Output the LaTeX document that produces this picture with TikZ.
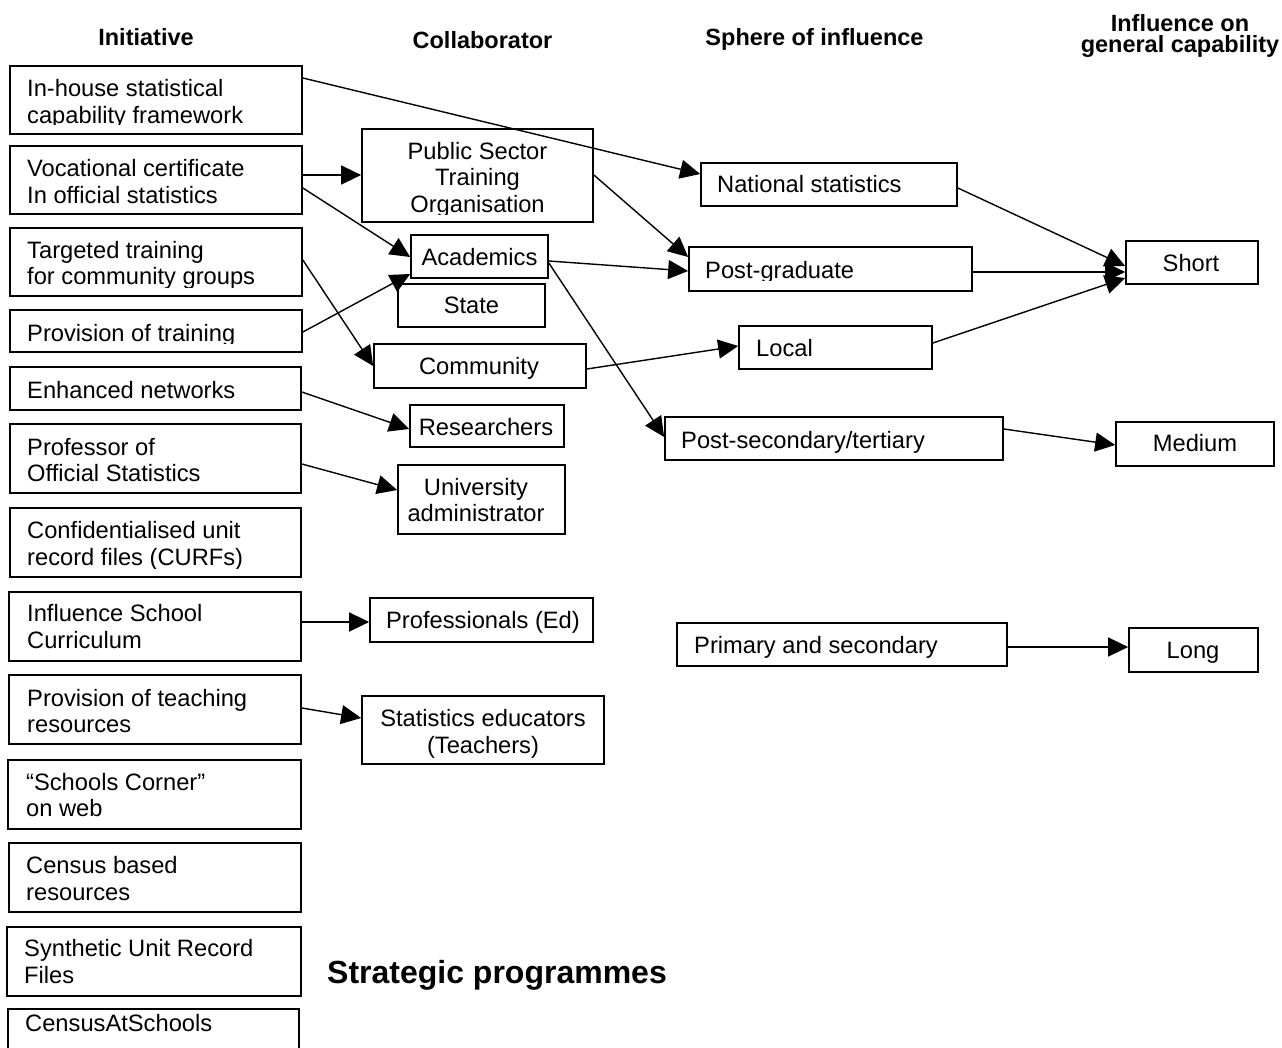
\documentclass[tikz,border=0pt]{standalone}
\usepackage{fontspec}
\setmainfont{Liberation Sans}
\usetikzlibrary{arrows.meta}
\newcommand\ml[1]{\begin{tabular}[t]{@{}l@{}}#1\end{tabular}}
\newcommand\mcx[1]{\begin{tabular}[t]{@{}c@{}}#1\end{tabular}}
\newcommand\mybox[5]{\node[boxst, minimum width={#4-#2}, minimum height={#5-#3}] (#1) at ({(#2+#4)/2},{(#3+#5)/2}) {};}
\tikzset{
  boxst/.style={draw=black, line width=1.7pt, rectangle, inner sep=0pt},
  tx/.style={anchor=base west, inner sep=0pt, font=\fontsize{23.7}{26.7}\selectfont},
  txc/.style={anchor=base, inner sep=0pt, font=\fontsize{23.7}{26.7}\selectfont},
  hd/.style={anchor=base, inner sep=0pt, font=\bfseries\fontsize{23.5}{26}\selectfont},
  arr/.style={line width=1.4pt, -{Triangle[length=20pt,width=19pt]}}
}
\begin{document}
\begin{tikzpicture}[x=1pt,y=-1pt]
\useasboundingbox (0,0) rectangle (1282,1048);
\fill[white] (0,0) rectangle (1282,1048);

% headers
\node[hd] (h1) at (146,46) {Initiative};
\node[hd] (h2) at (482.5,49) {Collaborator};
\node[hd] (h3) at (814.5,46) {Sphere of influence};
\node[hd] (h4a) at (1180,32) {Influence on};
\node[hd] (h4b) at (1180,53) {general capability};
\node[anchor=base west, inner sep=0pt, font=\bfseries\fontsize{32}{36}\selectfont] (strat) at (327,983) {Strategic programmes};

% initiative boxes
\mybox{inhouse}{10}{66}{302}{134}
\mybox{voc}{10}{146}{302}{214}
\mybox{targ}{10}{228}{302}{296}
\mybox{provtr}{10}{310}{302}{352}
\mybox{enh}{10}{367}{301}{410}
\mybox{prof}{10}{424}{301}{493}
\mybox{conf}{10}{508}{301}{577}
\mybox{infl}{9}{592}{301}{661}
\mybox{provteach}{9}{675}{301}{744}
\mybox{schools}{8}{760}{301}{829}
\mybox{censusb}{9}{843}{301}{912}
\mybox{synth}{7}{927}{301}{996}
\mybox{cas}{8}{1009}{299}{1060}

\begin{scope}
\clip (10,66) rectangle (302,124.5);
\node[tx] (inhouse-t) at (27,96.7) {\ml{In-house statistical\\capability framework}};
\end{scope}
\node[tx] (voc-t) at (27,176.7) {\ml{Vocational certificate\\In official statistics}};
\begin{scope}
\clip (10,228) rectangle (302,287.5);
\node[tx] (targ-t) at (27,258.3) {\ml{Targeted training\\for community groups}};
\end{scope}
\begin{scope}
\clip (10,310) rectangle (302,344);
\node[tx] (provtr-t) at (27,341.7) {Provision of training};
\end{scope}
\node[tx] (enh-t) at (27,398.3) {Enhanced networks};
\node[tx] (prof-t) at (27,455) {\ml{Professor of\\Official Statistics}};
\begin{scope}
\clip (10,508) rectangle (301,568);
\node[tx] (conf-t) at (27,538.3) {\ml{Confidentialised unit\\record files (CURFs)}};
\end{scope}
\node[tx] (infl-t) at (27,621.7) {\ml{Influence School\\Curriculum}};
\node[tx] (provteach-t) at (27,706) {\ml{Provision of teaching\\resources}};
\node[tx] (schools-t) at (26,790) {\ml{“Schools Corner”\\on web}};
\node[tx] (censusb-t) at (26,873.3) {\ml{Census based\\resources}};
\node[tx] (synth-t) at (24,956.7) {\ml{Synthetic Unit Record\\Files}};
\node[tx] (cas-t) at (25,1031.7) {CensusAtSchools};

% collaborator boxes
\mybox{pst}{362}{129}{593}{222}
\mybox{acad}{411}{235}{548}{278}
\mybox{state}{398}{284}{545}{327}
\mybox{comm}{374}{344}{586}{388}
\mybox{res}{410}{405}{564}{447}
\mybox{univ}{398}{465}{565}{534}
\mybox{profed}{370}{598}{593}{642}
\mybox{stated}{362}{696}{604}{764}

\begin{scope}
\clip (362,129) rectangle (593,215);
\node[txc] (pst-t) at (477.5,159.3) {\mcx{Public Sector\\Training\\Organisation}};
\end{scope}
\node[txc] (acad-t) at (479.5,265.7) {Academics};
\node[txc] (state-t) at (471.5,313.3) {State};
\node[txc] (comm-t) at (479,374) {Community};
\node[txc] (res-t) at (486,435) {Researchers};
\node[txc] (univ-t) at (476,495) {\mcx{University\\administrator}};
\node[txc] (profed-t) at (483,628.3) {Professionals (Ed)};
\node[txc] (stated-t) at (483,726.7) {\mcx{Statistics educators\\(Teachers)}};

% sphere boxes
\mybox{natstat}{701}{163}{957}{206}
\mybox{pgrad}{689}{247}{972}{291}
\mybox{local}{739}{326}{932}{369}
\mybox{postsec}{665}{417}{1003}{460}
\mybox{prim}{677}{623}{1007}{666}

\node[tx] (natstat-t) at (717,192.7) {National statistics};
\begin{scope}
\clip (689,247) rectangle (972,280.5);
\node[tx] (pgrad-t) at (705,278.3) {Post-graduate};
\end{scope}
\node[tx] (local-t) at (756,356.7) {Local};
\node[tx] (postsec-t) at (681,448.3) {Post-secondary/tertiary};
\node[tx] (prim-t) at (694,653.3) {Primary and secondary};

% influence boxes
\mybox{short}{1126}{241}{1258}{284}
\mybox{medium}{1116}{422}{1274}{466}
\mybox{long}{1129}{628}{1258}{672}

\node[txc] (short-t) at (1191,271.7) {Short};
\node[txc] (medium-t) at (1195,451.7) {Medium};
\node[txc] (long-t) at (1193,658.3) {Long};

% connectors
\draw[arr] (inhouse.east |- 0,78) -- (natstat.west |- 0,174);
\draw[arr] (voc.east |- 0,175) -- (pst.west |- 0,175);
\draw[arr] (voc.east |- 0,188) -- (acad.west |- 0,257);
\draw[arr] (targ.east |- 0,260) -- (comm.west |- 0,366);
\draw[arr] (provtr.east |- 0,332) -- (acad.west |- 0,274);
\draw[arr] (enh.east |- 0,392) -- (res.west |- 0,429);
\draw[arr] (prof.east |- 0,464) -- (univ.west |- 0,490);
\draw[arr] (infl.east |- 0,622) -- (profed.west |- 0,622);
\draw[arr] (provteach.east |- 0,708) -- (stated.west |- 0,718);
\draw[arr] (pst.east |- 0,175) -- (pgrad.west |- 0,257);
\draw[arr] (acad.east |- 0,261) -- (pgrad.west |- 0,271);
\draw[arr] (acad.east |- 0,263) -- (postsec.west |- 0,437);
\draw[arr] (comm.east |- 0,369) -- (local.west |- 0,346);
\draw[arr] (natstat.east |- 0,188) -- (short.west |- 0,266);
\draw[arr] (pgrad.east |- 0,272) -- (short.west |- 0,272);
\draw[arr] (local.east |- 0,343) -- (short.west |- 0,278);
\draw[arr] (postsec.east |- 0,429) -- (medium.west |- 0,445);
\draw[arr] (prim.east |- 0,647) -- (long.west |- 0,647);
\end{tikzpicture}
\end{document}
